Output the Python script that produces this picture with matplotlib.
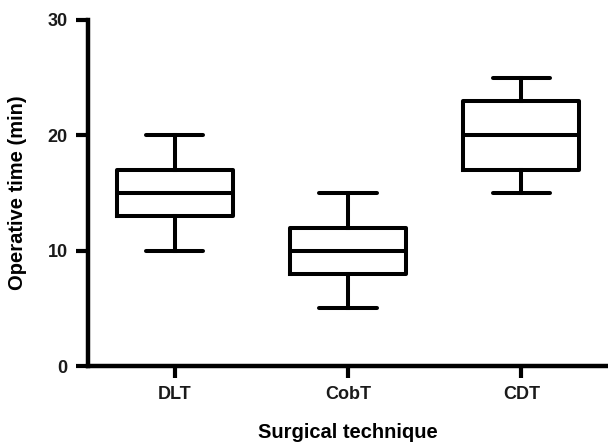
import matplotlib
matplotlib.use("Agg")
import matplotlib.pyplot as plt

plt.rcParams['font.family'] = ['Liberation Sans', 'DejaVu Sans']
plt.rcParams['font.weight'] = 'bold'

# box stats
groups = ['DLT', 'CobT', 'CDT']
whisker_low = [10, 5, 15]
q1 = [13, 8, 17]
median = [15, 10, 20]
q3 = [17, 12, 23]
whisker_high = [20, 15, 25]
yticks = [0, 10, 20, 30]

stats = []
for i in range(len(groups)):
    stats.append({
        'label': groups[i],
        'whislo': whisker_low[i],
        'q1': q1[i],
        'med': median[i],
        'q3': q3[i],
        'whishi': whisker_high[i],
        'fliers': [],
    })

fig = plt.figure(figsize=(6.08, 4.44), dpi=100)
ax = fig.add_axes([88/608, 1 - 366/444, 1 - 88/608, (366 - 20)/444])

lw = 2.9
ax.bxp(stats, positions=[1, 2, 3], widths=0.67, showfliers=False,
       boxprops=dict(color='black', linewidth=lw),
       medianprops=dict(color='black', linewidth=lw),
       whiskerprops=dict(color='black', linewidth=lw),
       capprops=dict(color='black', linewidth=lw, solid_capstyle='round'),
       capwidths=0.33)

ax.set_xlim(0.5, 3.5)
ax.set_ylim(0, 30)
ax.set_yticks(yticks)
ax.set_xticks([1, 2, 3])
ax.set_xticklabels(groups)

for s in ['top', 'right']:
    ax.spines[s].set_visible(False)
for s in ['left', 'bottom']:
    ax.spines[s].set_linewidth(3.2)
    ax.spines[s].set_capstyle('projecting')

ax.tick_params(axis='both', width=3, length=8.5, labelsize=13, pad=6,
               labelcolor='#1a1a1a')
for lab in ax.get_xticklabels() + ax.get_yticklabels():
    lab.set_fontweight('bold')

ax.set_ylabel('Operative time (min)', fontsize=14.5, fontweight='bold')
ax.set_xlabel('Surgical technique', fontsize=14.5, fontweight='bold')
ax.yaxis.set_label_coords((27 - 88) / 520, 0.5)
ax.xaxis.set_label_coords(0.5, (366 - 423) / 346)

fig.savefig('out.png', dpi=100)
